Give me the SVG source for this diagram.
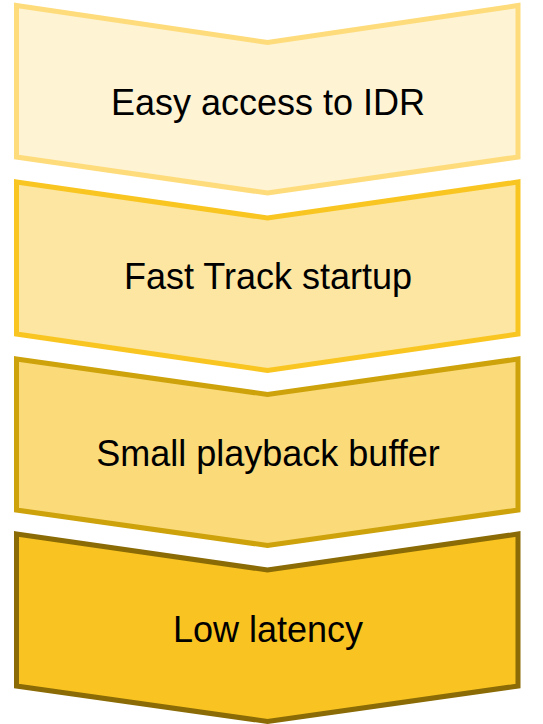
<svg xmlns="http://www.w3.org/2000/svg" width="543" height="724" viewBox="0 0 543 724">
<style>
.s{stroke-width:5;stroke-linejoin:miter}
.t{font-family:"Liberation Sans",Arial,sans-serif;font-size:36px;fill:#000;text-anchor:middle}
</style>
<rect width="543" height="724" fill="#fff"/>
<g id="connectors"/>
<g id="n1">
<polygon class="s" points="16.5,5.5 267.5,42.5 518,5.5 518,157 267.5,193 16.5,157" fill="#FEF3D3" stroke="#FEDC7C"/>
<text class="t" x="268" y="115">Easy access to IDR</text>
</g>
<g id="n2">
<polygon class="s" points="16.5,182 267.5,218 518,182 518,334 267.5,370.5 16.5,334" fill="#FCE6A1" stroke="#F9C521"/>
<text class="t" x="268" y="289">Fast Track startup</text>
</g>
<g id="n3">
<polygon class="s" points="16.5,359 267.5,394.5 518,359 518,510 267.5,545.5 16.5,510" fill="#FBDA79" stroke="#CDA20A"/>
<text class="t" x="268" y="466">Small playback buffer</text>
</g>
<g id="n4">
<polygon class="s" points="16.5,534 267.5,570 518,534 518,686 267.5,721.5 16.5,686" fill="#F9C421" stroke="#8A6B05"/>
<text class="t" x="268" y="642">Low latency</text>
</g>
</svg>
